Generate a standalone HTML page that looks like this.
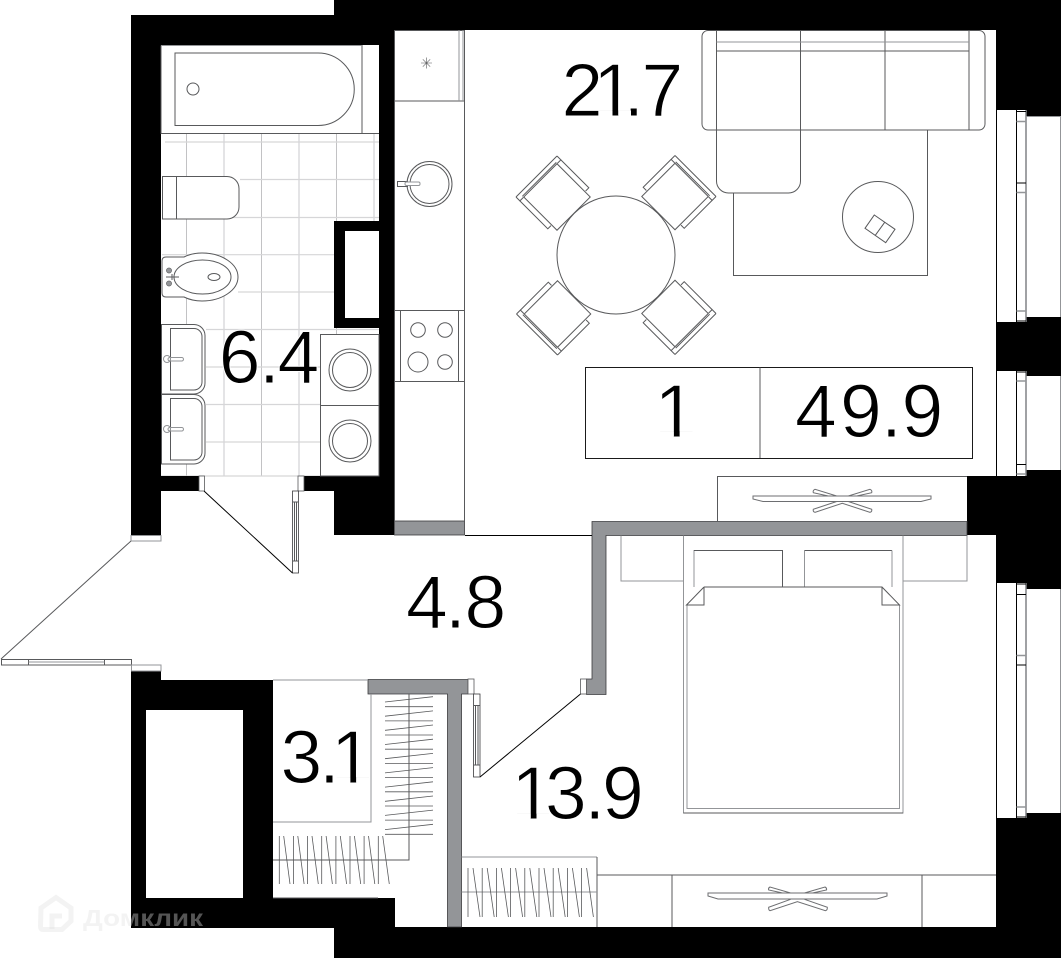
<!DOCTYPE html>
<html lang="ru">
<head>
<meta charset="utf-8">
<title>Планировка</title>
<style>
html,body{margin:0;padding:0;background:#fff;width:1063px;height:959px;overflow:hidden}
svg{display:block}
.n{font-family:"Liberation Sans",sans-serif;font-size:75px;fill:#000;stroke:#fff;stroke-width:1px}
.l{fill:none;stroke:#58595b;stroke-width:1}
.g{fill:none;stroke:#939598;stroke-width:1}
.t{fill:none;stroke:#d6d6d8;stroke-width:1.2}
.a{fill:none;stroke:#c2c2c4;stroke-width:1}
.b{fill:none;stroke:#dfdfe1;stroke-width:1.7}
.k{fill:none;stroke:#000;stroke-width:1}
</style>
</head>
<body>
<svg width="1063" height="959" viewBox="0 0 1063 959" xmlns="http://www.w3.org/2000/svg">
<defs>
<g id="chair" class="l">
<rect x="-23.5" y="-23.5" width="47" height="47" fill="#fff"/>
<path d="M-29-29H29M-24-25H24"/>
<path d="M-29-29V-23.5H-24M29-29V-23.5H24"/>
<path d="M-29-23.5V16H-24.5M29-23.5V16H24.5"/>
</g>
<clipPath id="c21"><rect x="550" y="50" width="140" height="60.4"/><rect x="550" y="110" width="48.500" height="10"/><rect x="612.500" y="110" width="5.700" height="10"/><rect x="631" y="110" width="60" height="10"/></clipPath>
<clipPath id="c13"><rect x="500" y="750" width="160" height="63.400"/><rect x="530.800" y="813" width="5.700" height="10"/><rect x="549" y="813" width="110" height="10"/></clipPath>
<clipPath id="c31"><rect x="270" y="720" width="100" height="57.400"/><rect x="270" y="777" width="66" height="10"/><rect x="350.400" y="777" width="5.700" height="10"/></clipPath>
<clipPath id="c1"><rect x="640" y="370" width="60" height="61.400"/><rect x="673.900" y="431" width="5.700" height="10"/></clipPath>
</defs>

<rect width="1063" height="959" fill="#fff"/>

<!-- tile floor -->
<path class="a" d="M186.500 134V476M261.500 134V476M336.500 134V476"/>
<path class="b" d="M224 134V476M299 134V476M374 134V221"/>
<path class="t" d="M165 142H379M240 179.500H379M162 217.500H379M162 254.700H334M238 292H334M206 329.500H379M206 367H320M206 404.500H320M206 442H320"/>
<path class="t" d="M161 476H320"/>

<!-- black walls -->
<g fill="#000">
<rect x="334" y="0" width="727" height="30"/>
<rect x="131" y="15" width="263" height="30"/>
<rect x="131" y="15" width="30" height="520"/>
<rect x="379" y="30" width="15" height="505"/>
<rect x="334" y="476" width="60" height="59"/>
<rect x="304" y="476" width="90" height="15"/>
<rect x="161" y="476" width="38" height="15"/>
<path fill-rule="evenodd" d="M334 221H379V328H334ZM345 231V318H379V231Z"/>
<rect x="996" y="0" width="65" height="110"/>
<rect x="1026" y="110" width="35" height="6"/>
<rect x="996" y="322" width="65" height="49"/>
<rect x="1026" y="317" width="35" height="59"/>
<rect x="996" y="476" width="65" height="107"/>
<rect x="1026" y="470" width="35" height="119"/>
<rect x="996" y="818" width="65" height="140"/>
<rect x="1026" y="813" width="35" height="145"/>
<rect x="967" y="476" width="30" height="59"/>
<rect x="334" y="927" width="727" height="31"/>
<rect x="131" y="671" width="30" height="10"/>
<path fill-rule="evenodd" d="M131 680H273V928H131ZM146 710V898H243V710Z"/>
<rect x="273" y="898" width="122" height="30"/>
</g>

<!-- gray walls -->
<g fill="#939598" stroke="#3a3a3c" stroke-width="0.8">
<rect x="394.500" y="521" width="70" height="14"/>
<path d="M592 521.500H967V535.500H606V694.500H586.500V679H592Z"/>
<path d="M368 679.500H468V694H461.500V927H447.500V694H368Z"/>
</g>
<path class="k" d="M465 535.500H592"/>
<path class="g" d="M273 680H368"/>

<!-- bathroom -->
<path class="l" d="M161 45.500V133.500H379M362 45V133.500"/>
<path class="g" d="M161 45.500H362"/>
<path class="l" d="M175 53H318A36.250 36.250 0 0 1 318 125.500H175Z"/>
<circle class="l" cx="193" cy="89" r="6"/>
<path class="l" style="fill:#fff" d="M162.500 176.500H227A12 12 0 0 1 239 188.500V207A12 12 0 0 1 227 219H162.500Z"/>
<path class="l" d="M176.500 176.500V219"/>
<path style="fill:#fff" class="l" d="M166 257H184C190 254 196 253 202 253C222 253 238 264 238 277C238 290 222 301 202 301C196 301 190 300 184 297H166Q162 297 162 293V261Q162 257 166 257Z"/>
<ellipse class="l" cx="202.500" cy="277" rx="28.500" ry="17"/>
<ellipse class="l" cx="214" cy="277" rx="6" ry="3.500"/>
<circle cx="169" cy="270.500" r="2.600" fill="#939598" stroke="#58595b" stroke-width=".6"/>
<circle cx="169" cy="283.500" r="2.600" fill="#939598" stroke="#58595b" stroke-width=".6"/>
<path class="l" d="M166 277H179M172 274V280"/>

<g>
<path style="fill:#fff" class="l" d="M161.500 324.500H194A11 11 0 0 1 205 335.500V383A11 11 0 0 1 194 394H161.500Z"/>
<path class="l" d="M170.500 328.500H194A8 8 0 0 1 202 336.500V382A8 8 0 0 1 194 390H170.500Z"/>
<path style="fill:#fff" class="l" d="M161.500 394.500H194A11 11 0 0 1 205 405.500V453A11 11 0 0 1 194 464H161.500Z"/>
<path class="l" d="M170.500 398.500H194A8 8 0 0 1 202 406.500V452A8 8 0 0 1 194 460H170.500Z"/>
<circle class="g" cx="167" cy="359" r="3.500"/>
<rect class="g" x="168" y="357.500" width="15.500" height="3.500" rx="1.700"/>
<circle class="g" cx="167" cy="429" r="3.500"/>
<rect class="g" x="168" y="427.500" width="15.500" height="3.500" rx="1.700"/>
</g>

<rect x="320.500" y="334.500" width="58.500" height="141.500" fill="#fff" stroke="#58595b"/>
<path class="l" d="M320.500 405.500H379"/>
<circle class="l" cx="350" cy="370" r="21"/><circle class="l" cx="350" cy="370" r="17.500"/>
<circle class="l" cx="350" cy="441" r="21"/><circle class="l" cx="350" cy="441" r="17.500"/>

<!-- door of bathroom -->
<rect x="199" y="476" width="5.500" height="15" fill="#fff" stroke="#58595b" stroke-width=".8"/>
<rect x="298" y="476" width="6" height="15" fill="#fff" stroke="#58595b" stroke-width=".8"/>
<rect x="292.500" y="491" width="6" height="82" fill="#fff" stroke="#3a3a3c" stroke-width=".8"/>
<path class="l" d="M292.500 502H298.500M292.500 561H298.500M294.500 502V561M296.500 502V561"/>
<path class="k" d="M204 491L292.500 573"/>

<!-- kitchen -->
<path class="l" d="M394.500 30V521M464.500 30V521M394.500 30.500H464.500M394.500 101H464.500"/>
<path class="g" d="M459 30V101M463 30V101"/>
<path class="l" style="stroke-width:.6" d="M421 63H432M426.500 57.500V68.500M422.800 59.300L430.200 66.700M430.200 59.300L422.800 66.700"/>
<circle class="l" cx="429.500" cy="184" r="22.500"/><circle class="l" cx="429.500" cy="184" r="19.500"/>
<rect x="397.500" y="181.500" width="10" height="5" fill="#fff" stroke="#58595b"/>
<rect x="405" y="182" width="15" height="3.500" rx="1.500" fill="#fff" stroke="#939598"/>
<path class="l" d="M394.500 310.500H464.500M394.500 381.500H464.500M400.500 310.500V381.500M458.500 310.500V381.500"/>
<circle class="l" cx="418" cy="330" r="7.300"/><circle class="l" cx="445" cy="330" r="7.300"/>
<circle class="l" cx="418" cy="362" r="10"/><circle class="l" cx="445" cy="362" r="7.300"/>

<!-- dining -->
<use href="#chair" transform="translate(557 197) rotate(-45)"/>
<use href="#chair" transform="translate(675 196.500) rotate(45)"/>
<use href="#chair" transform="translate(675 313.500) rotate(135)"/>
<use href="#chair" transform="translate(557.500 314) rotate(225)"/>
<circle cx="616" cy="255" r="59" fill="#fff" stroke="#58595b"/>

<!-- rug & sofa -->
<rect class="l" x="733.500" y="130" width="194" height="145.500"/>
<rect x="702" y="30.500" width="283" height="99.500" rx="6" fill="#fff" stroke="#58595b"/>
<path class="l" d="M716.500 30.500V130M800.500 30.500V130M885 30.500V130M969 30.500V130"/>
<path class="g" d="M716.500 42H969"/>
<path class="l" d="M716.500 51H969"/>
<path style="fill:#fff" class="l" d="M716.500 130H800.500V181A12 12 0 0 1 788.500 193H728.500A12 12 0 0 1 716.500 181Z"/>
<circle class="l" cx="878" cy="217" r="35.500"/>
<path class="l" d="M874.300 215L895 229.300L885.700 242.700L865 228.300ZM884.700 222.300L875.300 235.300"/>

<!-- info box -->
<rect x="585.500" y="367.500" width="387" height="91" fill="#fff" stroke="#1a1a1a"/>
<path class="l" d="M760 367.500V458"/>

<!-- TV stand upper -->
<path class="l" d="M717.500 521V476.500H967"/>
<path class="g" style="stroke:#6d6e71" d="M753 496H931V499L921 501.500H763L753 499Z"/>
<path class="g" style="stroke:#6d6e71" d="M836.700 496L815 489.300Q812.500 490.500 813.300 492.700L828.300 496M848.300 496L870 489.300Q872.500 490.500 871.700 492.700L856.700 496"/>
<path class="g" style="stroke:#6d6e71" d="M836.700 501.500L813.300 509.300Q812.800 511.800 815 512.300L842.300 503.300L870 512.300Q872.200 511.800 871.700 509.300L848.300 501.500"/>

<!-- bedroom -->
<path class="g" d="M621 535.500V581H683.500M967 535.500V581H903"/>
<path class="g" d="M683.500 535.500V813H903V535.500"/>
<path class="g" d="M687 605V808.500H899.500V605"/>
<path class="l" d="M683.500 813H903"/>
<path class="g" d="M694 587V550.500H782"/>
<path class="l" d="M694 550.500H782.500V587"/>
<path class="g" d="M804.500 587V550.500"/>
<path class="l" d="M804.500 550.500H892"/>
<path class="g" d="M892 550.500V587"/>
<path class="l" d="M704 587H882L899.500 605H882V587M704 587L686.500 605H704V587"/>

<!-- bedroom door -->
<rect x="468" y="679" width="6" height="15" fill="#fff" stroke="#58595b" stroke-width=".8"/>
<rect x="580.500" y="679" width="6" height="15" fill="#fff" stroke="#58595b" stroke-width=".8"/>
<rect x="473.500" y="694" width="6.500" height="83" fill="#fff" stroke="#3a3a3c" stroke-width=".8"/>
<path class="l" d="M473.500 705.500H480M473.500 765H480M475.500 705.500V765M478 705.500V765"/>
<path class="k" d="M480 777L580.500 694"/>

<!-- bedroom wardrobe -->
<path class="g" d="M461.500 857H597"/>
<path class="l" d="M597 857V927M597 875H996M672 875V927M922 875V927" />
<path class="g" d="M461.500 892H597"/>
<path class="l" style="stroke-width:.8" d="M468 868V917M473 868L480 917M482.200 868V917M487.200 868L494.200 917M496.400 868V917M501.400 868L508.400 917M510.600 868V917M515.600 868L522.600 917M524.800 868V917M529.800 868L536.800 917M539 868V917M544 868L551 917M553.200 868V917M558.200 868L565.200 917M567.400 868V917M572.400 868L579.400 917M581.600 868V917M586.600 868L593.400 917"/>
<path class="g" style="stroke:#6d6e71" d="M708 893H887V896L877 899H718L708 896Z"/>
<path class="g" style="stroke:#6d6e71" d="M790.600 893L770 887Q768 888 768.700 890L782.600 893M804.500 893L825 887Q827 888 826.500 890L812.500 893"/>
<path class="g" style="stroke:#6d6e71" d="M790.600 899.300L768.700 907.300Q768.400 910 770 910.700L797.400 901.700L825.500 910.700Q827.600 910 827.300 907.300L804.500 899.300"/>

<!-- closet -->
<path class="g" d="M371 694V822H273"/>
<path class="l" d="M409 694V860H273"/>
<path class="l" style="stroke-width:.8" d="M385 702L433 696.700M385 706.700H433M385 716.200L433 710.900M385 720.900H433M385 730.300L433 725M385 735H433M385 744.500L433 739.200M385 749.200H433M385 758.700L433 753.400M385 763.400H433M385 772.900L433 767.600M385 777.600H433M385 787.100L433 781.800M385 791.800H433M385 801.300L433 796M385 806H433M385 815.400L433 810.100M385 820.100H433M385 829.600L433 824.300M385 834.300H433"/>
<path class="l" style="stroke-width:.8" d="M279.300 836V884M283.700 836L290 884M293.400 836V884M297.800 836L304.100 884M307.600 836V884M312 836L318.300 884M321.700 836V884M326.100 836L332.400 884M335.900 836V884M340.300 836L346.600 884M350 836V884M354.400 836L360.700 884M364.100 836V884M368.500 836L374.800 884M378.300 836V884M382.700 836L389.300 884"/>
<path class="l" d="M273 898H378"/>

<!-- entry door -->
<rect x="131" y="535.500" width="30" height="5.500" fill="#fff" stroke="#939598"/>
<path class="l" d="M131 541L1 659"/>
<rect x="1.500" y="659.500" width="130" height="5.500" fill="#fff" stroke="#58595b"/>
<path class="l" d="M28.500 659.500V665M104.500 659.500V665"/>
<path class="g" d="M28.500 662H104.500"/>
<rect x="131.500" y="665" width="29.500" height="6" fill="#fff" stroke="#939598"/>

<!-- windows -->
<g>
<path class="k" d="M996.500 110V322M996.500 371V476M996.500 583V818"/>
<path class="k" d="M1016.500 110V322M1016.500 371V476M1016.500 583V818"/>
<path d="M1026 110V322M1026 371V476M1026 583V818" fill="none" stroke="#808285" stroke-width="1.500"/>
<path d="M1016.500 111.500H1026M1016.500 183H1026M1016.500 321H1026M1016.500 372H1026M1016.500 464.500H1026M1016.500 584H1026M1016.500 594.500H1026M1016.500 665H1026M1016.500 817H1026" stroke="#000" fill="none"/>
<path d="M1016.500 121.500H1026M1016.500 192.500H1026M1016.500 311H1026M1016.500 381H1026M1016.500 474H1026M1016.500 655.500H1026M1016.500 807H1026" stroke="#939598" stroke-width="1.500" fill="none"/>
<path class="g" d="M1026 116.500H1060.500V317M1060.500 376V470M1060.500 589V813"/>
</g>

<!-- labels -->
<text class="n" x="561.500 593.100 623.200 641.500" y="116" clip-path="url(#c21)">21.7</text>
<text class="n" x="218.700 259 277.500" y="383">6.4</text>
<text class="n" x="406 445 464.500" y="628">4.8</text>
<text class="n" x="280.500 319 331" y="783" clip-path="url(#c31)">3.1</text>
<text class="n" x="511.400 545 584.400 602" y="819" clip-path="url(#c13)">13.9</text>
<text class="n" x="654.500" y="437" clip-path="url(#c1)">1</text>
<text class="n" x="795 840 881 901.500" y="437">49.9</text>

<!-- watermark -->
<g fill="none" stroke="#e0e0e0" stroke-opacity=".38" stroke-width="5">
<path d="M41 908L56 897.500L71 908V921L62 929.500H43Q40.500 929.500 40.500 926Z"/>
<path d="M52 929V916H62"/>
</g>
<text x="83" y="926" font-family="'Liberation Sans',sans-serif" font-weight="700" font-size="23" fill="#e0e0e0" fill-opacity=".38" textLength="120" lengthAdjust="spacingAndGlyphs">Домклик</text>
</svg>
</body>
</html>
